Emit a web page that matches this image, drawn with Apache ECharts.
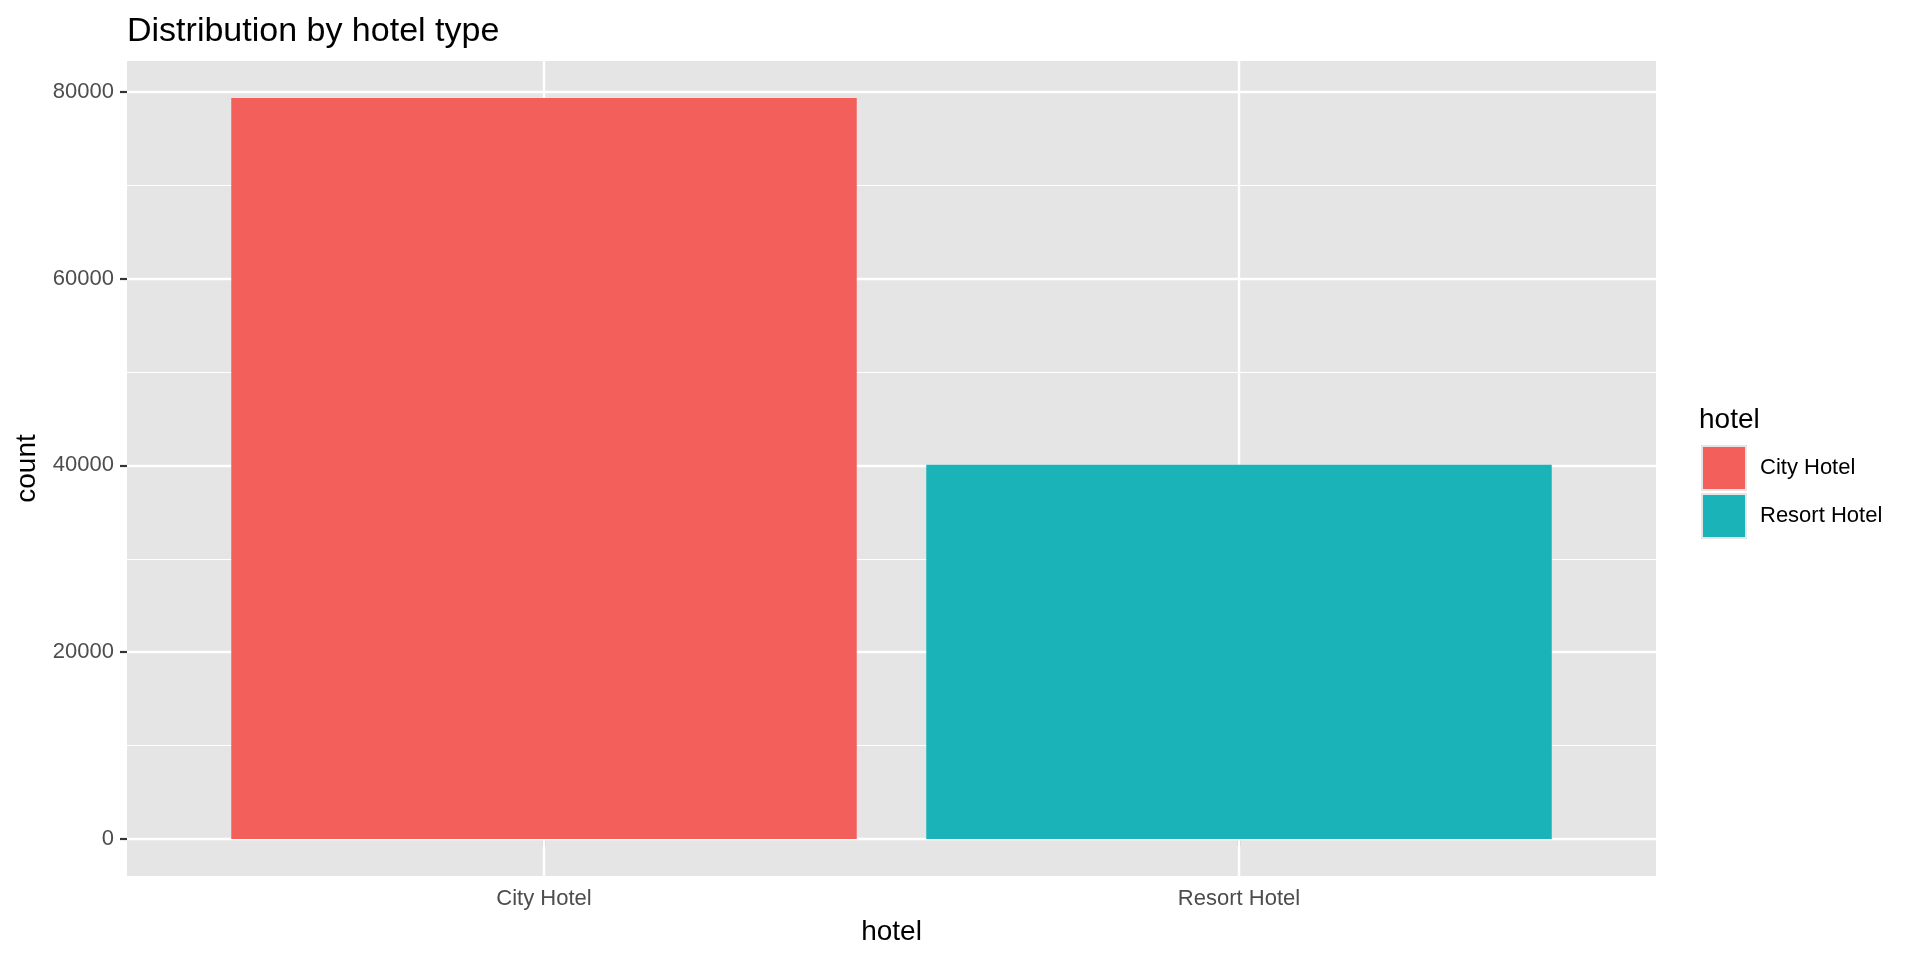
<!DOCTYPE html>
<html>
<head>
<meta charset="utf-8">
<script src="https://cdn.jsdelivr.net/npm/echarts@6/dist/echarts.min.js"></script>
<style>
html,body{margin:0;padding:0;background:#fff;}
#chart{width:1920px;height:960px;}
</style>
</head>
<body>
<div id="chart"></div>
<script>
const categories = ['City Hotel', 'Resort Hotel'];
const counts = [79330, 40060];
const colors = ['#F35F5B', '#1AB3B8'];
const majorTicks = [0, 20000, 40000, 60000, 80000];
const minorTicks = [10000, 30000, 50000, 70000];
const categoryPositions = [1, 2];

const FONT = '"Liberation Sans", Arial, Helvetica, sans-serif';
const gridLeft = 127, gridRight = 264, gridTop = 61, gridBottom = 84;
const plotWidth = 1920 - gridLeft - gridRight;
const xMin = 0.4, xMax = categories.length + 0.6;
const barPx = plotWidth / (xMax - xMin) * 0.9;

const maxVal = Math.max(...counts);
const yMin = -0.05 * maxVal, yMax = maxVal * 1.05;

const chart = echarts.init(document.getElementById('chart'), null, {renderer: 'canvas'});

const series = categories.map((name, i) => ({
  name: name,
  type: 'bar',
  data: [[categoryPositions[i], counts[i]]],
  barWidth: barPx,
  barGap: '-100%',
  itemStyle: {color: colors[i]},
  z: 3,
  silent: true
}));

series.push({
  name: '__grid',
  type: 'line',
  data: [],
  silent: true,
  markLine: {
    silent: true,
    symbol: 'none',
    z: 1,
    label: {show: false},
    lineStyle: {color: '#ffffff', type: 'solid', width: 1.2},
    data: minorTicks.map(v => ({yAxis: v}))
  }
});
series.push({
  name: '__grid2',
  type: 'line',
  data: [],
  silent: true,
  markLine: {
    silent: true,
    symbol: 'none',
    z: 1,
    label: {show: false},
    lineStyle: {color: '#ffffff', type: 'solid', width: 2.4},
    data: majorTicks.map(v => ({yAxis: v})).concat(categoryPositions.map(v => ({xAxis: v})))
  }
});

const option = {
  animation: false,
  backgroundColor: '#ffffff',
  title: [
    {
      text: 'Distribution by hotel type',
      left: 127, top: 15, padding: 0,
      textStyle: {fontFamily: FONT, fontSize: 34, fontWeight: 'normal', color: '#000'}
    },
    {
      text: 'hotel',
      left: 1699, top: 406, padding: 0,
      textStyle: {fontFamily: FONT, fontSize: 28, fontWeight: 'normal', color: '#000'}
    }
  ],
  legend: {
    data: categories.map(c => ({name: c, icon: 'rect'})),
    orient: 'vertical',
    left: 1701, top: 445, padding: 0,
    itemWidth: 44, itemHeight: 44, itemGap: 2,
    itemStyle: {borderColor: '#E5E5E5', borderWidth: 2},
    textStyle: {fontFamily: FONT, fontSize: 22, color: '#000', padding: [0, 0, 0, 9]},
    selectedMode: false
  },
  grid: {
    left: gridLeft, right: gridRight, top: gridTop, bottom: gridBottom,
    show: true, backgroundColor: '#E5E5E5', borderWidth: 0
  },
  xAxis: {
    type: 'value',
    min: xMin, max: xMax,
    name: 'hotel',
    nameLocation: 'middle',
    nameGap: 42,
    nameTextStyle: {fontFamily: FONT, fontSize: 28, color: '#000'},
    axisLine: {show: false},
    splitLine: {show: false},
    axisTick: {show: true, customValues: categoryPositions, length: 7, lineStyle: {color: '#333', width: 2.2}},
    axisLabel: {
      customValues: categoryPositions,
      margin: 12,
      fontFamily: FONT, fontSize: 22, color: '#4D4D4D',
      formatter: v => categories[Math.round(v) - 1] || ''
    }
  },
  yAxis: {
    type: 'value',
    min: yMin, max: yMax,
    name: 'count',
    nameLocation: 'middle',
    nameGap: 86,
    nameTextStyle: {fontFamily: FONT, fontSize: 28, color: '#000'},
    axisLine: {show: false},
    splitLine: {show: false},
    axisTick: {show: true, customValues: majorTicks, length: 7, lineStyle: {color: '#333', width: 2.2}},
    axisLabel: {
      customValues: majorTicks,
      margin: 13,
      fontFamily: FONT, fontSize: 22, color: '#4D4D4D',
      formatter: v => String(Math.round(v))
    }
  },
  series: series
};
chart.setOption(option);
</script>
</body>
</html>
